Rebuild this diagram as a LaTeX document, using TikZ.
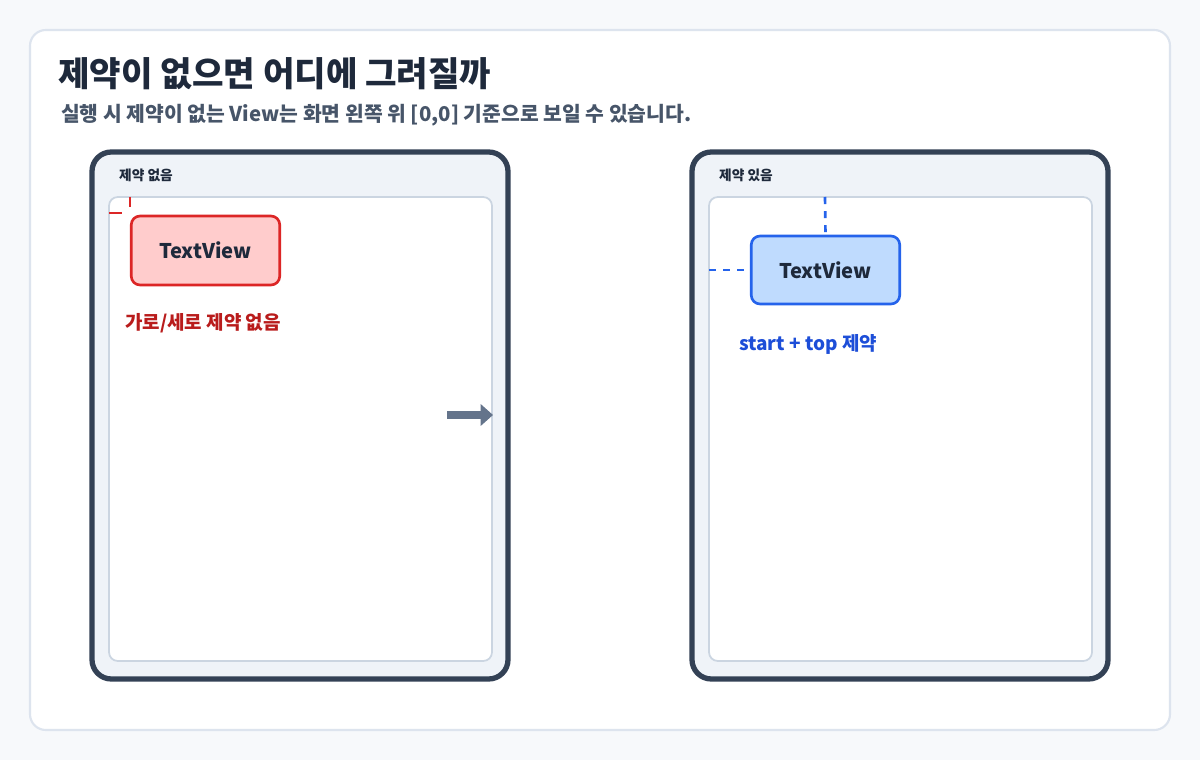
\documentclass[tikz,border=0pt]{standalone}
\usepackage{fontspec}
\setmainfont{Noto Sans CJK KR}
\usepackage{tikz}
\usetikzlibrary{arrows.meta,positioning}
\definecolor{bgc}{HTML}{F7F9FB}
\definecolor{cardline}{HTML}{DDE4EE}
\definecolor{ink}{HTML}{1E293B}
\definecolor{subink}{HTML}{475569}
\definecolor{phone}{HTML}{334155}
\definecolor{phonefill}{HTML}{EFF3F8}
\definecolor{screenline}{HTML}{CBD5E1}
\definecolor{redline}{HTML}{DC2626}
\definecolor{redfill}{HTML}{FFCCCC}
\definecolor{redtext}{HTML}{B91C1C}
\definecolor{blueline}{HTML}{2563EB}
\definecolor{bluefill}{HTML}{BFDBFE}
\definecolor{bluetext}{HTML}{1D4ED8}
\definecolor{arrowc}{HTML}{64748B}
\tikzset{
  phonebox/.style={draw=phone, line width=3pt, fill=phonefill, rounded corners=11pt},
  screen/.style={draw=screenline, line width=1pt, fill=white, rounded corners=5pt},
  tv/.style={line width=1.5pt, rounded corners=5pt, font=\bfseries\fontsize{11.5}{13}\selectfont, text=ink},
  phonecap/.style={anchor=west, font=\bfseries\fontsize{7.8}{9}\selectfont, text=ink},
  guide/.style={line width=1.5pt, dash pattern=on 4pt off 4pt}
}
\begin{document}
\begin{tikzpicture}[x=0.02cm, y=-0.02cm]
  \fill[bgc] (0,0) rectangle (1200,760);
  \draw[cardline, fill=white, line width=1.2pt, rounded corners=9pt] (30,30) rectangle (1170,730);
  \node[anchor=west, font=\bfseries\fontsize{19.5}{22}\selectfont, text=ink] (title) at (52,74) {제약이 없으면 어디에 그려질까};
  \node[anchor=west, font=\bfseries\fontsize{11.6}{13}\selectfont, text=subink] (sub) at (55,115) {실행 시 제약이 없는 View는 화면 왼쪽 위 [0,0] 기준으로 보일 수 있습니다.};
  % left phone
  \draw[phonebox] (92,152) rectangle (508,679);
  \node[phonecap] (lcap) at (113,175) {제약 없음};
  \draw[screen] (109,197) rectangle (492,661);
  \node[tv, draw=redline, fill=redfill, minimum width=2.97cm, minimum height=1.38cm] (tvl) at (205.5,250.5) {TextView};
  \coordinate (lx) at (109,213);
  \coordinate (ly) at (130,197);
  \draw[redline, line width=1.5pt] (lx) -- ++(13,0);
  \draw[redline, line width=1.5pt] (ly) -- ++(0,10);
  \node[anchor=west, font=\bfseries\fontsize{10.8}{12}\selectfont, text=redtext] (rlab) at (119,323) {가로/세로 제약 없음};
  \coordinate (a1) at (447,415);
  \coordinate (a2) at (493,415);
  \draw[arrowc, line width=4pt, -{Triangle[length=7pt,width=12pt]}] (a1) -- (a2);
  % right phone
  \draw[phonebox] (692,152) rectangle (1108,679);
  \node[phonecap] (rcap) at (713,175) {제약 있음};
  \draw[screen] (709,197) rectangle (1092,661);
  \node[tv, draw=blueline, fill=bluefill, minimum width=2.97cm, minimum height=1.36cm] (tvr) at (825.5,270) {TextView};
  \coordinate (rt) at (825,197);
  \coordinate (rs) at (709,270);
  \draw[blueline, guide] (rt) -- (tvr.north);
  \draw[blueline, guide] (rs) -- (tvr.west);
  \node[anchor=west, font=\bfseries\fontsize{10.8}{12}\selectfont, text=bluetext] (blab) at (733,344) {start + top 제약};
\end{tikzpicture}
\end{document}
